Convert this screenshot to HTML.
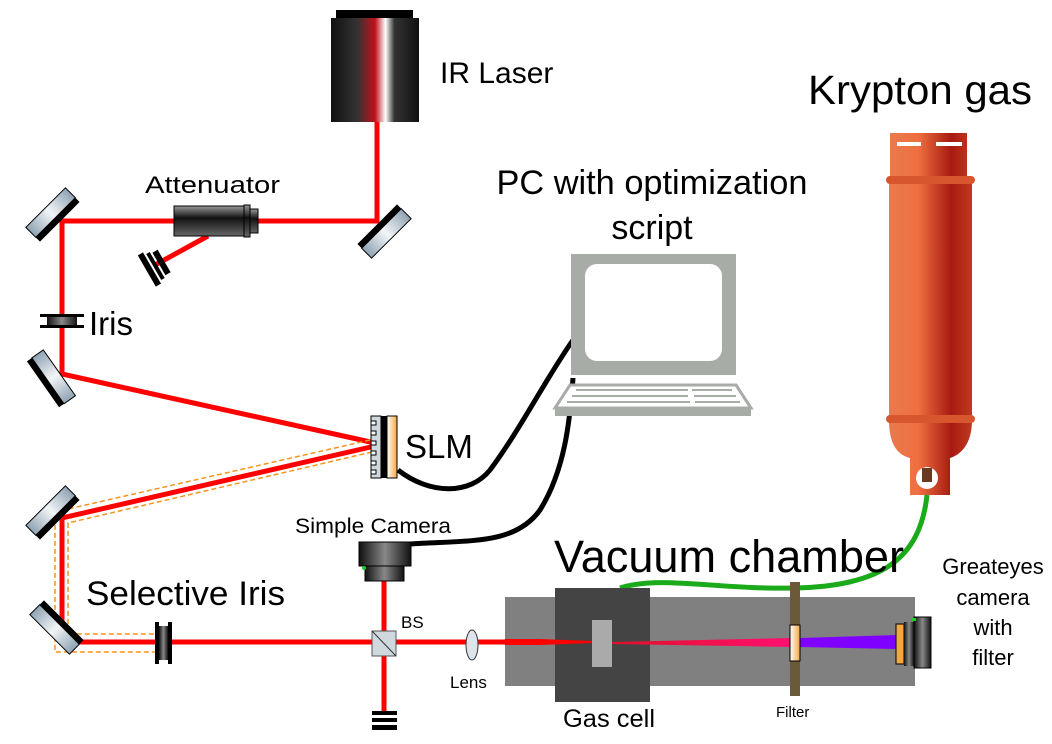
<!DOCTYPE html>
<html><head><meta charset="utf-8"><style>
html,body{margin:0;padding:0;background:#fff;}
svg{display:block;font-family:"Liberation Sans",Arial,sans-serif;}
</style></head><body>
<svg width="1052" height="744" viewBox="0 0 1052 744" xmlns="http://www.w3.org/2000/svg">
<defs>
<linearGradient id="las" x1="0" x2="1"><stop offset="0" stop-color="#111"/><stop offset="0.3" stop-color="#333"/><stop offset="0.5" stop-color="#c0101a"/><stop offset="0.62" stop-color="#fff"/><stop offset="0.72" stop-color="#333"/><stop offset="1" stop-color="#111"/></linearGradient>
<linearGradient id="mir" x1="0" y1="0" x2="0" y2="1"><stop offset="0" stop-color="#8fa3b3"/><stop offset="0.5" stop-color="#f2f5f7"/><stop offset="1" stop-color="#8fa3b3"/></linearGradient>
<linearGradient id="cyl" x1="0" y1="0" x2="0" y2="1"><stop offset="0" stop-color="#999"/><stop offset="0.4" stop-color="#111"/><stop offset="1" stop-color="#666"/></linearGradient>
<linearGradient id="bot" x1="0" x2="1"><stop offset="0" stop-color="#e87a50"/><stop offset="0.35" stop-color="#ef6f40"/><stop offset="0.75" stop-color="#a81a10"/><stop offset="1" stop-color="#c03a20"/></linearGradient>
<linearGradient id="org" x1="0" x2="1"><stop offset="0" stop-color="#fff"/><stop offset="1" stop-color="#f4a640"/></linearGradient>
<linearGradient id="cam" x1="0" x2="1"><stop offset="0" stop-color="#111"/><stop offset="0.5" stop-color="#888"/><stop offset="1" stop-color="#111"/></linearGradient>
<linearGradient id="beam" x1="0" x2="1"><stop offset="0" stop-color="#e0102a"/><stop offset="1" stop-color="#ff1070"/></linearGradient>
<g id="m"><rect x="-5" y="-28" width="14" height="56" fill="url(#mir)" stroke="#000" stroke-width="1"/><rect x="-11" y="-28" width="6" height="56" fill="#000"/></g>
</defs>

<!-- beams -->
<g stroke="#f00" stroke-width="5" fill="none">
<polyline points="377,122 377,221 62,221 62,374 375,443"/>
<line x1="208" y1="236" x2="155" y2="265"/>
<polyline points="375,446 62,518 62,642 505,642"/>
<line x1="384" y1="580" x2="384" y2="712"/>
</g>
<g stroke="#f7941d" stroke-width="1.5" fill="none" stroke-dasharray="5,3">
<polyline points="370,440 55,512 55,652 160,652"/>
<polyline points="372,452 68,523 68,634 160,634"/>
</g>

<!-- laser -->
<rect x="336" y="10" width="77" height="8" fill="#000"/>
<rect x="331" y="18" width="88" height="104" fill="url(#las)"/>
<text x="440" y="83" font-size="30">IR Laser</text>

<!-- mirrors -->
<use href="#m" transform="translate(385,232) rotate(45)"/>
<use href="#m" transform="translate(52,214) rotate(-135)"/>
<use href="#m" transform="translate(52,378) rotate(-35)"/>
<use href="#m" transform="translate(52,512) rotate(-135)"/>
<use href="#m" transform="translate(56,628) rotate(135)"/>

<!-- attenuator -->
<rect x="174" y="206" width="70" height="30" fill="url(#cyl)" stroke="#000"/>
<rect x="244" y="205" width="6" height="32" fill="url(#cyl)" stroke="#000"/>
<rect x="250" y="209" width="8" height="24" fill="url(#cyl)" stroke="#000"/>
<text x="145" y="193" font-size="24" textLength="135" lengthAdjust="spacingAndGlyphs">Attenuator</text>
<g transform="translate(152,268) rotate(-30)"><rect x="-6" y="-18" width="6" height="36" fill="#000"/><rect x="2" y="-15" width="4" height="30" fill="#000"/><rect x="8" y="-13" width="6" height="26" fill="#000"/></g>

<!-- iris -->
<rect x="40" y="314" width="44" height="3" fill="#000"/><rect x="40" y="325" width="44" height="3" fill="#000"/>
<rect x="47" y="317" width="30" height="8" fill="url(#cam)"/>
<text x="89" y="335" font-size="33">Iris</text>

<!-- SLM -->
<rect x="371" y="416" width="10" height="62" fill="#cfd8dd" stroke="#000"/>
<g fill="#fff" stroke="#000"><rect x="371" y="421" width="5" height="4"/><rect x="371" y="431" width="5" height="4"/><rect x="371" y="441" width="5" height="4"/><rect x="371" y="451" width="5" height="4"/><rect x="371" y="461" width="5" height="4"/><rect x="371" y="470" width="5" height="4"/></g>
<rect x="381" y="416" width="6" height="62" fill="#000"/>
<rect x="387" y="416" width="10" height="62" fill="url(#org)" stroke="#000"/>
<text x="405" y="458" font-size="33">SLM</text>

<!-- cables -->
<g stroke="#000" stroke-width="5" fill="none">
<path d="M398,470 C430,495 470,495 490,470 C520,430 545,380 573,340"/>
<path d="M410,544 C470,540 515,545 540,510 C565,470 570,420 573,378"/>
</g>

<!-- PC -->
<rect x="571" y="254" width="165" height="121" fill="#a8aca7"/>
<rect x="585" y="264" width="137" height="97" rx="12" fill="#fff"/>
<polygon points="570,385 736,385 751,408 555,408" fill="#fff" stroke="#a8aca7" stroke-width="3"/>
<rect x="555" y="408" width="196" height="8" fill="#a8aca7"/>
<g stroke="#a8aca7" stroke-width="2"><line x1="576" y1="390" x2="688" y2="390"/><line x1="692" y1="390" x2="732" y2="390"/><line x1="572" y1="396" x2="688" y2="396"/><line x1="694" y1="396" x2="736" y2="396"/><line x1="567" y1="402" x2="690" y2="402"/><line x1="695" y1="402" x2="740" y2="402"/></g>
<text x="652" y="194" font-size="34" text-anchor="middle" textLength="311" lengthAdjust="spacingAndGlyphs">PC with optimization</text>
<text x="652" y="239" font-size="34" text-anchor="middle">script</text>

<!-- bottle -->
<text x="808" y="104" font-size="41" textLength="224" lengthAdjust="spacingAndGlyphs">Krypton gas</text>
<path d="M890,133 H967 V180 H972 V420 C972,445 960,455 950,458 V495 H910 V458 C898,455 889,445 889,420 V180 H890 Z" fill="url(#bot)"/>
<rect x="886" y="176" width="89" height="8" rx="4" fill="#d8562e"/>
<rect x="886" y="415" width="89" height="8" rx="4" fill="#d8562e"/>
<rect x="897" y="142" width="24" height="4" fill="#fff"/><rect x="936" y="142" width="26" height="4" fill="#fff"/>
<circle cx="927" cy="478" r="11" fill="#fff"/>
<rect x="922" y="468" width="10" height="14" fill="#6a3a20"/>

<!-- green tube -->
<path d="M620,588 C660,575 720,590 795,588 C880,586 920,560 927,495" stroke="#1aaa1a" stroke-width="5" fill="none"/>

<!-- chamber -->
<rect x="505" y="597" width="410" height="89" fill="#808080"/>
<rect x="555" y="588" width="95" height="114" fill="#444"/>
<polygon points="505,639 540,639 592,641 592,643 540,645 505,645" fill="#f00"/>
<rect x="592" y="620" width="20" height="47" fill="#aaa"/>
<polygon points="612,642 790,638 790,647 612,644" fill="url(#beam)"/>
<polygon points="800,638 896,635 896,649 800,647" fill="#8000ff"/>
<rect x="790" y="582" width="10" height="114" fill="#6b5a3a"/>
<rect x="790" y="625" width="10" height="36" fill="url(#org)" stroke="#000"/>
<rect x="896" y="624" width="8" height="40" fill="#f4a640" stroke="#000"/>
<rect x="904" y="622" width="10" height="44" fill="url(#cam)"/>
<rect x="914" y="617" width="17" height="51" fill="url(#cam)" stroke="#000"/>
<rect x="912" y="618" width="4" height="3" fill="#2c2"/>
<text x="554" y="572" font-size="45" textLength="350" lengthAdjust="spacingAndGlyphs">Vacuum chamber</text>
<text x="563" y="727" font-size="25" textLength="92" lengthAdjust="spacingAndGlyphs">Gas cell</text>
<text x="776" y="717" font-size="15">Filter</text>
<g font-size="22" text-anchor="middle"><text x="993" y="574">Greateyes</text><text x="993" y="605">camera</text><text x="993" y="635">with</text><text x="993" y="665">filter</text></g>

<!-- selective iris -->
<rect x="155" y="622" width="4" height="42" fill="#000"/><rect x="168" y="622" width="4" height="42" fill="#000"/>
<rect x="159" y="626" width="9" height="34" fill="url(#cam)"/>
<text x="86" y="605" font-size="34" textLength="199" lengthAdjust="spacingAndGlyphs">Selective Iris</text>

<!-- BS, camera, dump, lens -->
<rect x="372" y="631" width="24" height="25" fill="#cfd8dd" stroke="#555"/>
<line x1="372" y1="631" x2="396" y2="656" stroke="#333"/>
<text x="401" y="628" font-size="17">BS</text>
<rect x="359" y="542" width="52" height="24" fill="url(#cam)" stroke="#000"/>
<rect x="365" y="566" width="39" height="15" fill="url(#cam)" stroke="#000"/>
<circle cx="364" cy="568" r="2" fill="#2c2"/>
<text x="295" y="533" font-size="21" textLength="156" lengthAdjust="spacingAndGlyphs">Simple Camera</text>
<rect x="372" y="711" width="25" height="4" fill="#000"/><rect x="372" y="718" width="25" height="4" fill="#000"/><rect x="372" y="725" width="25" height="5" fill="#000"/>
<ellipse cx="472" cy="645" rx="6" ry="15" fill="#dde5ea" stroke="#333"/>
<text x="450" y="688" font-size="17">Lens</text>
</svg>
</body></html>
